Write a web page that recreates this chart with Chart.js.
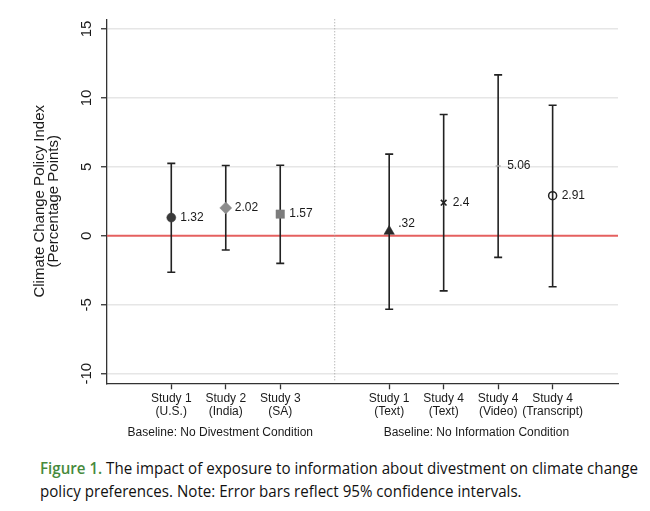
<!DOCTYPE html>
<html>
<head>
<meta charset="utf-8">
<script src="https://cdn.jsdelivr.net/npm/chart.js@4.4.0/dist/chart.umd.min.js"></script>
<style>
  html, body { margin: 0; padding: 0; background: #fff; }
  #wrap { position: relative; width: 650px; height: 511px; overflow: hidden; }
  #box { position: absolute; left: 0; top: 0; width: 650px; height: 450px; }
  #legenda {
    position: absolute; left: 40px; top: 456px;
    font-family: 'Open Sans', Lato, sans-serif; font-size: 17px; line-height: 23px;
    color: #111; white-space: nowrap; transform-origin: 0 0;
  }
  #legenda .fig { color: #468a3c; font-weight: 600; }
</style>
</head>
<body>
<div id="wrap">
  <div id="box"><canvas id="grafico"></canvas></div>
  <div id="legenda"><span id="linha1"><span class="fig">Figure 1.</span> The impact of exposure to information about divestment on climate change</span><br><span>policy preferences. Note: Error bars reflect 95% confidence intervals.</span></div>
</div>
<script>
// dados
const rotuloLinha1 = ['Study 1', 'Study 2', 'Study 3', 'Study 1', 'Study 4', 'Study 4', 'Study 4'];
const rotuloLinha2 = ['(U.S.)', '(India)', '(SA)', '(Text)', '(Text)', '(Video)', '(Transcript)'];
const posicaoX = [1, 2, 3, 5, 6, 7, 8];
const posicaoDivisor = 4;
const estimativas = [1.32, 2.02, 1.57, 0.32, 2.4, 5.06, 2.91];
const limiteInferior = [-2.65, -1.03, -2.0, -5.33, -4.0, -1.57, -3.7];
const limiteSuperior = [5.25, 5.1, 5.12, 5.92, 8.8, 11.67, 9.47];
const rotulosValor = ['1.32', '2.02', '1.57', '.32', '2.4', '5.06', '2.91'];
const ticksY = [-10, -5, 0, 5, 10, 15];
const grupos = ['Baseline: No Divestment Condition', 'Baseline: No Information Condition'];
const centroGrupo = [1.9, 6.6];
const tituloY = ['Climate Change Policy Index', '(Percentage Points)'];

const FONTE = "'Liberation Sans', Arial, Helvetica, sans-serif";

// Plugin para barras de erro, linha zero, divisor e textos rotacionados
const desenhoExtra = {
    id: 'desenhoExtra',
    beforeDatasetsDraw(chart) {
        const { ctx, chartArea, scales: { x, y } } = chart;
        ctx.save();
        // linha vermelha no zero
        const y0 = y.getPixelForValue(0);
        ctx.strokeStyle = '#e5605f';
        ctx.lineWidth = 2;
        ctx.beginPath();
        ctx.moveTo(chartArea.left, y0);
        ctx.lineTo(chartArea.right, y0);
        ctx.stroke();

        // divisor pontilhado
        const xd = x.getPixelForValue(posicaoDivisor);
        ctx.strokeStyle = '#9a9a9a';
        ctx.lineWidth = 1;
        ctx.setLineDash([1, 2]);
        ctx.beginPath();
        ctx.moveTo(xd, chartArea.top);
        ctx.lineTo(xd, chartArea.bottom - 2);
        ctx.stroke();
        ctx.setLineDash([]);

        // barras de erro
        ctx.strokeStyle = '#222';
        ctx.lineWidth = 1.6;
        posicaoX.forEach((pos, i) => {
            const px = x.getPixelForValue(pos);
            const lo = y.getPixelForValue(limiteInferior[i]);
            const hi = y.getPixelForValue(limiteSuperior[i]);
            ctx.beginPath();
            ctx.moveTo(px, lo);
            ctx.lineTo(px, hi);
            ctx.moveTo(px - 4, lo);
            ctx.lineTo(px + 4, lo);
            ctx.moveTo(px - 4, hi);
            ctx.lineTo(px + 4, hi);
            ctx.stroke();
        });
        ctx.restore();
    },
    afterDatasetsDraw(chart) {
        const { ctx, scales: { x, y } } = chart;
        ctx.save();
        ctx.fillStyle = '#1a1a1a';
        ctx.font = '12px ' + FONTE;
        ctx.textAlign = 'left';
        ctx.textBaseline = 'middle';
        posicaoX.forEach((pos, i) => {
            const px = x.getPixelForValue(pos);
            let py = y.getPixelForValue(estimativas[i]);
            if (i === 3) py -= 8; // rotulo do triangulo fica acima
            ctx.fillText(rotulosValor[i], px + 9, py);
        });
        ctx.restore();
    },
    afterDraw(chart) {
        const { ctx, chartArea, scales: { x, y } } = chart;
        ctx.save();
        ctx.fillStyle = '#1a1a1a';
        ctx.textAlign = 'center';
        ctx.textBaseline = 'middle';

        // ticks do eixo Y rotacionados
        ctx.font = '15px ' + FONTE;
        ticksY.forEach(v => {
            ctx.save();
            ctx.translate(87, y.getPixelForValue(v));
            ctx.rotate(-Math.PI / 2);
            ctx.fillText(String(v), 0, 0);
            ctx.restore();
        });

        // titulo do eixo Y
        const cy = (chartArea.top + chartArea.bottom) / 2;
        [39.5, 54].forEach((cx, i) => {
            ctx.save();
            ctx.translate(cx, cy);
            ctx.rotate(-Math.PI / 2);
            ctx.fillText(tituloY[i], 0, 0);
            ctx.restore();
        });

        // titulos dos grupos
        ctx.font = '12px ' + FONTE;
        grupos.forEach((g, i) => {
            ctx.fillText(g, x.getPixelForValue(centroGrupo[i]), 433);
        });
        ctx.restore();
    }
};

const dados = posicaoX.map((pos, i) => ({ x: pos, y: estimativas[i] }));

new Chart(document.getElementById('grafico'), {
    type: 'scatter',
    data: {
        datasets: [{
            data: dados,
            pointStyle: ['circle', 'rectRot', 'rect', 'triangle', 'crossRot', 'line', 'circle'],
            pointRadius: [4.5, 6, 6, 6, 4, 2.5, 4],
            pointBackgroundColor: ['#3a3a3a', '#8c8c8c', '#7d7d7d', '#2a2a2a', '#222', '#aaa', 'rgba(0,0,0,0)'],
            pointBorderColor: ['#3a3a3a', '#8c8c8c', '#7d7d7d', '#2a2a2a', '#222', '#aaa', '#222'],
            pointBorderWidth: [0.5, 0.5, 0.5, 0.5, 1.6, 1.3, 1.5]
        }]
    },
    options: {
        responsive: true,
        maintainAspectRatio: false,
        animation: false,
        layout: { padding: { top: 19.3, right: 32, left: 0, bottom: 0 } },
        plugins: {
            legend: { display: false },
            tooltip: { enabled: false }
        },
        scales: {
            x: {
                type: 'linear',
                min: -0.18,
                max: 9.2,
                afterBuildTicks: scale => {
                    scale.ticks = posicaoX.map(v => ({ value: v }));
                },
                afterFit: scale => { scale.height = 66.7; },
                ticks: {
                    autoSkip: false,
                    maxRotation: 0,
                    padding: 3,
                    color: '#1a1a1a',
                    font: { family: FONTE, size: 12, lineHeight: 1.05 },
                    callback: v => {
                        const i = posicaoX.indexOf(v);
                        return i < 0 ? '' : [rotuloLinha1[i], rotuloLinha2[i]];
                    }
                },
                grid: { drawOnChartArea: false, tickLength: 6, tickColor: '#333', tickWidth: 1.3 },
                border: { color: '#333', width: 1.3 }
            },
            y: {
                min: -10.7,
                max: 15.7,
                afterBuildTicks: scale => {
                    scale.ticks = ticksY.map(v => ({ value: v }));
                },
                afterFit: scale => { scale.width = 107; },
                ticks: { display: false },
                grid: {
                    color: c => (c.tick && c.tick.value === 0 ? 'rgba(0,0,0,0)' : '#e6e6e6'),
                    lineWidth: 1.5,
                    tickLength: 6,
                    tickColor: '#333',
                    tickWidth: 1.3
                },
                border: { color: '#333', width: 1.3 }
            }
        }
    },
    plugins: [desenhoExtra]
});

// ajusta a largura da legenda ao original
document.fonts.ready.then(() => {
    const largura = document.getElementById('linha1').getBoundingClientRect().width;
    document.getElementById('legenda').style.transform = 'scaleX(' + (598 / largura) + ')';
});
</script>
</body>
</html>
